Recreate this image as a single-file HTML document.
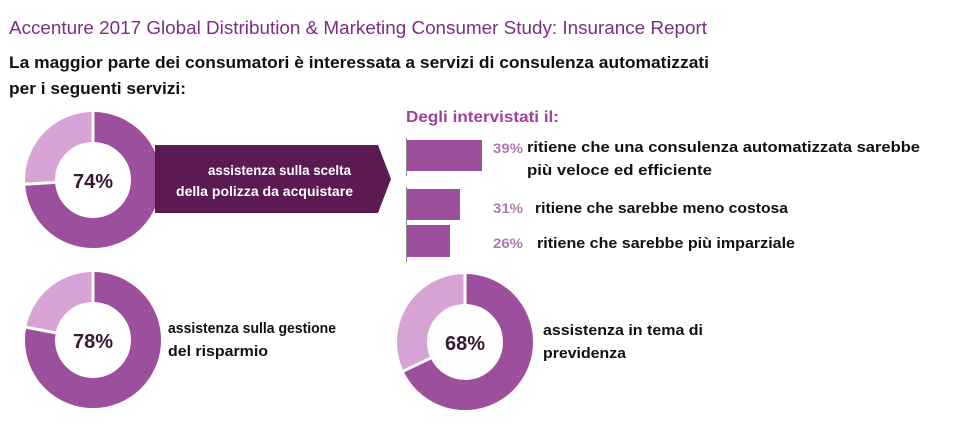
<!DOCTYPE html>
<html><head><meta charset="utf-8"><style>
html,body{margin:0;padding:0;background:#fff;}
svg{display:block;font-family:"Liberation Sans",sans-serif;}
</style></head><body>
<svg width="964" height="426" viewBox="0 0 964 426">
<text x="9" y="34" font-size="18.5" fill="#7a2f82" textLength="698" lengthAdjust="spacingAndGlyphs">Accenture 2017 Global Distribution &amp; Marketing Consumer Study: Insurance Report</text>
<text x="9" y="68" font-size="17" font-weight="bold" fill="#111" textLength="700" lengthAdjust="spacingAndGlyphs">La maggior parte dei consumatori è interessata a servizi di consulenza automatizzati</text>
<text x="9" y="94" font-size="17" font-weight="bold" fill="#111" textLength="177" lengthAdjust="spacingAndGlyphs">per i seguenti servizi:</text>

<g transform="translate(93,180)">
<circle r="53" fill="none" stroke="#d7a2d4" stroke-width="30"/>
<circle r="53" fill="none" stroke="#9c4f9c" stroke-width="30" stroke-dasharray="246.4 400" transform="rotate(-90)"/>
<line x1="0" y1="-36" x2="0" y2="-70" stroke="#fff" stroke-width="3"/>
<line x1="0" y1="-36" x2="0" y2="-70" stroke="#fff" stroke-width="3" transform="rotate(266.4)"/>
<text x="0" y="8" font-size="20" font-weight="bold" fill="#3a1535" text-anchor="middle">74%</text>
</g>
<polygon points="155,145 378,145 391,179 378,213 155,213" fill="#5c1a53"/>
<text x="208" y="175" font-size="13.5" font-weight="bold" fill="#fff" textLength="143" lengthAdjust="spacingAndGlyphs">assistenza sulla scelta</text>
<text x="176" y="196" font-size="13.5" font-weight="bold" fill="#fff" textLength="177" lengthAdjust="spacingAndGlyphs">della polizza da acquistare</text>

<g transform="translate(93,340)">
<circle r="53" fill="none" stroke="#d7a2d4" stroke-width="30"/>
<circle r="53" fill="none" stroke="#9c4f9c" stroke-width="30" stroke-dasharray="259.7 400" transform="rotate(-90)"/>
<line x1="0" y1="-36" x2="0" y2="-70" stroke="#fff" stroke-width="3"/>
<line x1="0" y1="-36" x2="0" y2="-70" stroke="#fff" stroke-width="3" transform="rotate(280.8)"/>
<text x="0" y="8" font-size="20" font-weight="bold" fill="#3a1535" text-anchor="middle">78%</text>
</g>
<text x="168" y="333" font-size="15" font-weight="bold" fill="#111" textLength="168" lengthAdjust="spacingAndGlyphs">assistenza sulla gestione</text>
<text x="168" y="356" font-size="15" font-weight="bold" fill="#111" textLength="100" lengthAdjust="spacingAndGlyphs">del risparmio</text>

<g transform="translate(465,342)">
<circle r="53" fill="none" stroke="#d7a2d4" stroke-width="30"/>
<circle r="53" fill="none" stroke="#9c4f9c" stroke-width="30" stroke-dasharray="226.4 400" transform="rotate(-90)"/>
<line x1="0" y1="-36" x2="0" y2="-70" stroke="#fff" stroke-width="3"/>
<line x1="0" y1="-36" x2="0" y2="-70" stroke="#fff" stroke-width="3" transform="rotate(244.8)"/>
<text x="0" y="8" font-size="20" font-weight="bold" fill="#3a1535" text-anchor="middle">68%</text>
</g>
<text x="543" y="335" font-size="15" font-weight="bold" fill="#111" textLength="160" lengthAdjust="spacingAndGlyphs">assistenza in tema di</text>
<text x="543" y="358" font-size="15" font-weight="bold" fill="#111" textLength="83" lengthAdjust="spacingAndGlyphs">previdenza</text>

<text x="406" y="122" font-size="16" font-weight="bold" fill="#a040a0" textLength="153" lengthAdjust="spacingAndGlyphs">Degli intervistati il:</text>
<line x1="406.5" y1="138" x2="406.5" y2="176" stroke="#888" stroke-width="1"/>
<line x1="406.5" y1="187" x2="406.5" y2="262" stroke="#888" stroke-width="1"/>
<rect x="407" y="140" width="75" height="31" fill="#9c4f9c"/>
<rect x="407" y="189" width="53" height="31" fill="#9c4f9c"/>
<rect x="407" y="225" width="43" height="32" fill="#9c4f9c"/>
<g font-weight="bold" font-size="14" fill="#b07ab0">
<text x="493" y="153" textLength="30" lengthAdjust="spacingAndGlyphs">39%</text>
<text x="493" y="213" textLength="30" lengthAdjust="spacingAndGlyphs">31%</text>
<text x="493" y="248" textLength="30" lengthAdjust="spacingAndGlyphs">26%</text>
</g>
<g font-weight="bold" font-size="15" fill="#111">
<text x="527" y="152" textLength="393" lengthAdjust="spacingAndGlyphs">ritiene  che una consulenza automatizzata sarebbe</text>
<text x="527" y="175" textLength="185" lengthAdjust="spacingAndGlyphs">più veloce ed efficiente</text>
<text x="535" y="213" textLength="253" lengthAdjust="spacingAndGlyphs">ritiene che sarebbe meno costosa</text>
<text x="537" y="248" textLength="258" lengthAdjust="spacingAndGlyphs">ritiene che sarebbe più imparziale</text>
</g>
</svg>
</body></html>
